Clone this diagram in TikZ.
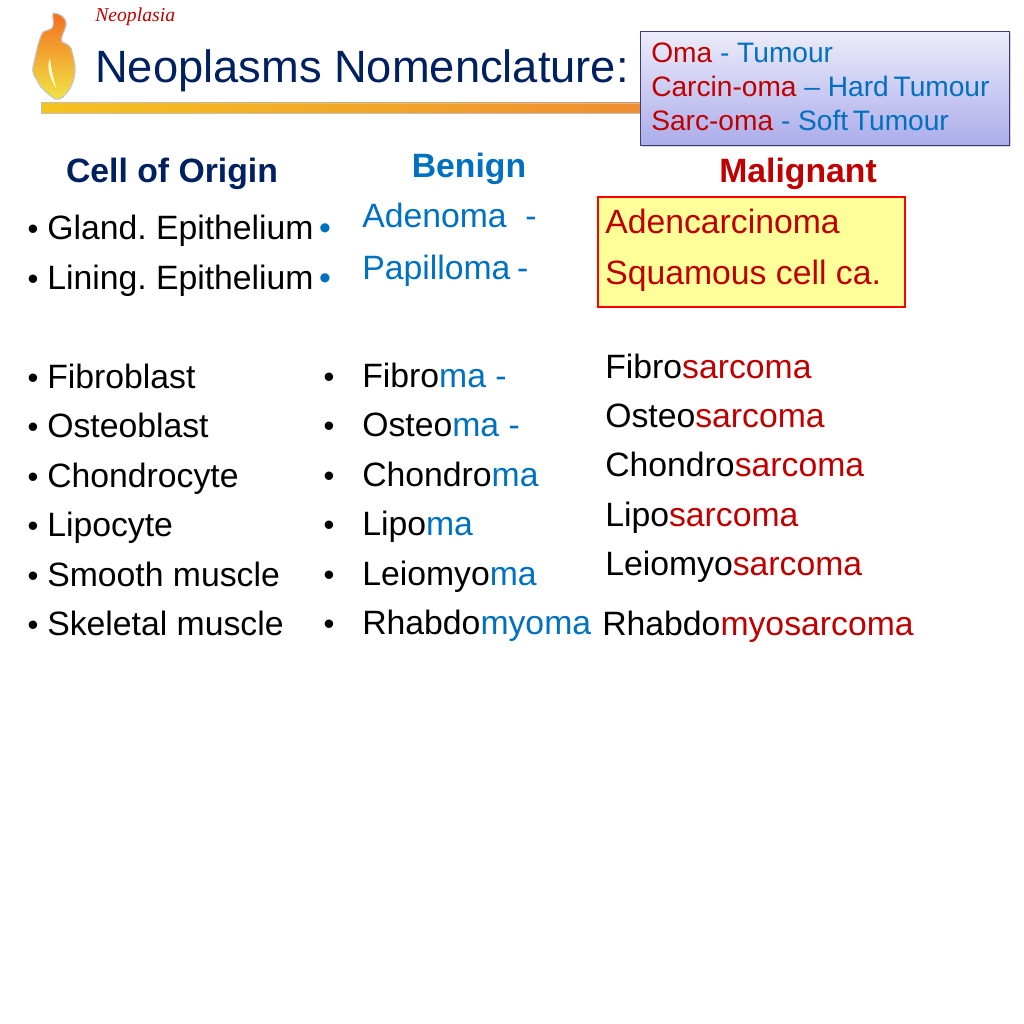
\documentclass[tikz,border=0pt]{standalone}
\usepackage{fontspec}
\setmainfont{Liberation Sans}
\newfontfamily\serifit[Scale=1]{Liberation Serif}
\usepackage{tikz}
\usetikzlibrary{positioning, shadows}
\definecolor{titlenavy}{RGB}{0, 32, 96}
\definecolor{benignblue}{RGB}{0, 112, 192}
\definecolor{malignred}{RGB}{192, 0, 0}
\definecolor{boxyellow}{RGB}{255, 255, 153}
\definecolor{barred}{RGB}{255, 0, 0}
\definecolor{barleft}{RGB}{245, 195, 30}
\definecolor{barright}{RGB}{240, 140, 50}
\definecolor{keytop}{RGB}{236, 236, 250}
\definecolor{keybottom}{RGB}{172, 172, 235}
\definecolor{keyedge}{RGB}{60, 60, 120}
\definecolor{flametop}{RGB}{245, 110, 30}
\definecolor{flamebottom}{RGB}{240, 230, 70}
\newcommand{\bodysize}{\fontsize{24}{28}\selectfont}
\newcommand{\keysize}{\fontsize{20}{24}\selectfont}
\tikzset{
  rowtext/.style={anchor=base west, inner sep=0pt, font=\bodysize},
  keytext/.style={anchor=base west, inner sep=0pt, font=\keysize, text=benignblue},
  headtext/.style={inner sep=0pt, font=\bodysize\bfseries},
  dotmark/.style={anchor=base, inner sep=0pt, font=\fontsize{22}{24}\selectfont}
}
\begin{document}
\frenchspacing
\begin{tikzpicture}[x=0.025cm, y=-0.025cm]
  \useasboundingbox (0,0) rectangle (1024,1024);

  % Flame
  \draw[gray!45, line width=0.8pt, top color=flametop, bottom color=flamebottom]
    (53,13) .. controls (60,13) and (67,18) .. (66,25)
    .. controls (65,32) and (60,36) .. (62,42)
    .. controls (68,44) and (72,47) .. (72,52)
    .. controls (75,62) and (76,70) .. (74,78)
    .. controls (72,88) and (66,94) .. (63,97)
    .. controls (60,99) and (57,100) .. (55,99)
    .. controls (48,94) and (40,88) .. (37,80)
    .. controls (34,76) and (32,72) .. (33,67)
    .. controls (36,55) and (38,40) .. (43,32)
    .. controls (46,30) and (50,30) .. (52,28)
    .. controls (55,24) and (52,18) .. (53,13) -- cycle;
  \fill[white!80!yellow] (50,58) .. controls (46,68) and (50,78) .. (56,88)
    .. controls (53,76) and (51,68) .. (50,58) -- cycle;

  % Title
  \node[anchor=base west, inner sep=0pt, text=malignred, font=\serifit\itshape\fontsize{14}{16}\selectfont] (section) at (95,22) {Neoplasia};
  \node[anchor=base west, inner sep=0pt, text=titlenavy, font=\fontsize{32.2}{38}\selectfont] (title) at (95,83) {Neoplasms Nomenclature:};

  % Gold bar
  \shade[left color=barleft, right color=barright, draw=gray!50, drop shadow={opacity=0.3, shadow xshift=1pt, shadow yshift=-1pt}]
    (41,103) rectangle (660,113);

  % Key box
  \node[draw=keyedge, top color=keytop, bottom color=keybottom, anchor=north west, minimum width=369*0.025cm, minimum height=114*0.025cm, drop shadow={opacity=0.35, shadow xshift=1pt, shadow yshift=-1.5pt}] (keybox) at (640,31) {};
  \node[keytext] (keyone) at (651,63) {\textcolor{malignred}{Oma} - Tumour};
  \node[keytext] (keytwo) at (651,97) {\textcolor{malignred}{Carcin-oma} – Hard\hspace{0.17em}Tumour};
  \node[keytext] (keythree) at (651,131) {\textcolor{malignred}{Sarc-oma} - Soft\hspace{0.17em}Tumour};

  % Column heads
  \node[headtext, text=titlenavy, yshift=-0.1cm] (headorigin) at (172,170) {Cell of Origin};
  \node[headtext, text=benignblue, yshift=-0.1cm] (headbenign) at (469,165) {Benign};
  \node[headtext, text=malignred, yshift=-0.1cm] (headmalign) at (798,170) {Malignant};

  % Cell of origin
  \foreach \name/\ypos/\txt in {gland/240/Gland. Epithelium, lining/289/Lining. Epithelium, fibro/388/Fibroblast, osteo/437/Osteoblast, chondro/487/Chondrocyte, lipo/536/Lipocyte, leio/586/Smooth muscle, rhabdo/635/Skeletal muscle} {
    \node[dotmark] (dot\name) at (33,\ypos) {•};
    \node[rowtext] (cell\name) at (47,\ypos) {\txt};
  }

  % Benign
  \node[dotmark, text=benignblue, font=\bodysize] (dotadeno) at (325,240) {•};
  \node[dotmark, text=benignblue, font=\bodysize] (dotpapil) at (325,289) {•};
  \node[rowtext, text=benignblue] (adenoma) at (362,228) {Adenoma\ \ -};
  \node[rowtext, text=benignblue] (papilloma) at (362,279) {Papilloma\hspace{0.2em}-};
  \foreach \name/\ypos/\stem/\tail in {fibro/387/Fibro/ma -, osteo/436/Osteo/ma -, chondro/486/Chondro/ma, lipo/535/Lipo/ma, leio/585/Leiomyo/ma, rhabdo/634/Rhabdo/myoma} {
    \node[dotmark] (ben\name dot) at (329,\ypos) {•};
    \node[rowtext] (ben\name) at (362,\ypos) {\stem\textcolor{benignblue}{\tail}};
  }

  % Malignant
  \node[draw=barred, line width=1.2pt, fill=boxyellow, anchor=north west, minimum width=307*0.025cm, minimum height=110*0.025cm, drop shadow={opacity=0.15, shadow xshift=0.5pt, shadow yshift=-0.5pt}] (malbox) at (597,196) {};
  \node[rowtext, text=malignred] (adenca) at (605,234) {Adencarcinoma};
  \node[rowtext, text=malignred] (squamous) at (605,284) {Squamous cell ca.};
  \foreach \name/\xpos/\ypos/\stem in {fibro/605/378/Fibro, osteo/605/427/Osteo, chondro/605/476/Chondro, lipo/605/526/Lipo, leio/605/575/Leiomyo} {
    \node[rowtext] (mal\name) at (\xpos,\ypos) {\stem\textcolor{malignred}{sarcoma}};
  }
  \node[rowtext] (malrhabdo) at (602,635) {Rhabdo\textcolor{malignred}{myosarcoma}};
\end{tikzpicture}
\end{document}
